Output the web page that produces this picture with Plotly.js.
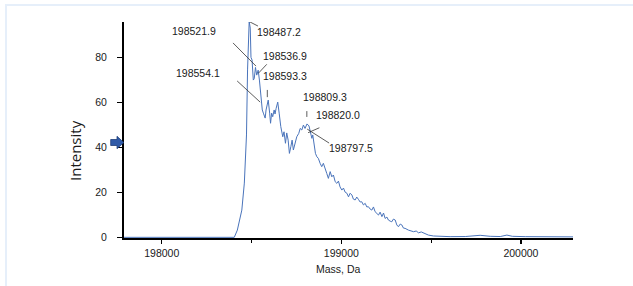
<!DOCTYPE html>
<html>
<head>
<meta charset="utf-8">
<script src="https://cdn.plot.ly/plotly-3.0.1.min.js"></script>
<style>
  html, body { margin: 0; padding: 0; background: #ffffff; }
  #wrap { position: relative; width: 633px; height: 286px; overflow: hidden; }
  #chart { position: absolute; left: 0; top: 0; width: 633px; height: 286px; }
  #frame { position: absolute; left: 5px; top: 4px; width: 800px; height: 400px;
           border: 2px solid #e6effa; pointer-events: none; }
</style>
</head>
<body>
<div id="wrap">
  <div id="chart"></div>
  <div id="frame"></div>
</div>
<script>
// ---- data ----
const mass = [
  197790, 198000, 198200, 198350, 198404, 198421, 198446, 198460, 198468, 198472, 198478,
  198487, 198493, 198497, 198503, 198510, 198515, 198522, 198529, 198537, 198544,
  198553, 198560, 198566, 198576, 198581, 198593, 198601, 198606, 198612, 198618,
  198626, 198631, 198637, 198646, 198654, 198663, 198674, 198681, 198689, 198696,
  198704, 198711, 198719, 198726, 198733, 198743, 198752, 198763, 198771, 198780,
  198789, 198798, 198809, 198820, 198826, 198836, 198841, 198849, 198856, 198864,
  198872, 198882, 198891, 198900, 198910, 198919, 198928, 198938, 198947, 198956,
  198966, 198975, 198984, 198993, 199003, 199012, 199021, 199031, 199040, 199049,
  199059, 199067, 199077, 199086, 199095, 199105, 199114, 199123, 199133, 199142,
  199151, 199160, 199170, 199179, 199188, 199198, 199207, 199216, 199226, 199235,
  199244, 199254, 199262, 199272, 199281, 199290, 199300, 199309, 199318, 199328,
  199337, 199346, 199355, 199374, 199389, 199402, 199417, 199430, 199445, 199457,
  199485, 199513, 199550, 199606, 199690, 199773, 199829, 199885, 199922, 199952,
  200024, 200135, 200219, 200290
];
const intensity = [
  0, 0, 0, 0, 0, 3.2, 12.1, 24.1, 38.8, 45.5, 74.4,
  95.9, 93.0, 80.0, 78.8, 69.9, 70.5, 75.5, 72.1, 74.3, 69.9,
  61.0, 56.6, 55.2, 53.0, 56.6, 61.0, 55.2, 50.7, 55.2, 53.6,
  56.6, 54.8, 57.3, 60.1, 55.2, 49.2, 44.7, 46.9, 41.8, 46.4,
  43.2, 37.3, 40.3, 43.2, 38.8, 41.8, 44.7, 46.2, 48.4, 47.7,
  49.9, 48.4, 50.4, 49.5, 46.9, 44.0, 45.5, 41.8, 37.3, 35.8,
  35.1, 32.9, 31.4, 32.9, 29.9, 28.4, 26.2, 29.2, 26.9, 27.7,
  24.7, 24.0, 25.0, 22.4, 21.0, 21.9, 20.1, 19.6, 18.0, 19.6,
  18.8, 17.0, 16.6, 17.9, 16.9, 15.7, 15.8, 14.4, 15.1, 13.5,
  13.6, 12.6, 12.1, 13.5, 11.4, 10.4, 9.9, 11.2, 9.2, 10.8,
  8.4, 9.0, 7.7, 7.2, 6.9, 8.1, 7.7, 5.5, 4.7, 5.9,
  5.5, 4.1, 4.0, 3.2, 3.0, 2.5, 2.8, 2.0, 2.4, 2.0,
  1.0, 0.6, 0.4, 0.3, 0.35, 0.9, 0.45, 0.35, 1.0, 0.45,
  0.3, 0.2, 0.2, 0.2
];
const peakLabels = ["198521.9", "198487.2", "198536.9", "198554.1",
                    "198593.3", "198809.3", "198820.0", "198797.5"];
const xTickVals = [198000, 199000, 200000];
const xTickText = ["198000", "199000", "200000"];
const yTickVals = [0, 20, 40, 60, 80];
const yTickText = ["0", "20", "40", "60", "80"];

// ---- layout helpers (positions of labels / leaders) ----
const labelPos = [
  [198177, 91.7], [198651, 91.2], [198687, 80.6], [198202, 73.0],
  [198687, 71.7], [198910, 62.3], [198982, 54.3], [199055, 39.7]
];
const leaders = [
  [198397, 86.4, 198525, 76.1],
  [198487, 95.9, 198536, 93.9],
  [198585, 76.9, 198538, 72.9],
  [198420, 69.5, 198548, 60.1],
  [198588, 65.5, 198588, 62.3],
  [198808, 56.1, 198808, 53.5],
  [198878, 48.7, 198815, 46.5],
  [198810, 48.1, 198932, 41.9]
];

const FONT = "Liberation Sans, Arial, sans-serif";

const annotations = peakLabels.map((t, i) => ({
  x: labelPos[i][0], y: labelPos[i][1], xref: "x", yref: "y",
  text: t, showarrow: false, xanchor: "center", yanchor: "middle",
  font: { family: FONT, size: 10.5, color: "#1a1a1a" }
}));
annotations.push({
  xref: "paper", yref: "paper", x: (75 - 124) / 449, y: (238 - 151) / 216,
  text: "Intensity", textangle: -90, showarrow: false,
  xanchor: "center", yanchor: "middle",
  font: { family: "Open Sans, Noto Sans, sans-serif", size: 15, color: "#1a1a1a" }
});
annotations.push({
  xref: "paper", yref: "paper", x: (338 - 124) / 449, y: (238 - 269) / 216,
  text: "Mass, Da", showarrow: false, xanchor: "center", yanchor: "middle",
  font: { family: FONT, size: 10.5, color: "#1a1a1a" }
});

const shapes = leaders.map(l => ({
  type: "line", xref: "x", yref: "y",
  x0: l[0], y0: l[1], x1: l[2], y1: l[3],
  line: { color: "#333333", width: 0.8 }
}));
// blue marker arrow at the y axis
const px = v => (v - 124) / 449, py = v => (238 - v) / 216;
shapes.push({
  type: "path", xref: "paper", yref: "paper",
  path: `M${px(110.7)},${py(139.5)} L${px(117)},${py(139.5)} L${px(117)},${py(136.3)} ` +
        `L${px(123.8)},${py(142.5)} L${px(117)},${py(148.7)} L${px(117)},${py(145.5)} ` +
        `L${px(110.7)},${py(145.5)} Z`,
  fillcolor: "#2f5aa8", line: { color: "#1f3f7a", width: 0.8 }
});

const trace = {
  x: mass, y: intensity, type: "scatter", mode: "lines",
  line: { color: "#4a74bb", width: 1 }, hoverinfo: "none"
};

const layout = {
  width: 633, height: 286,
  margin: { l: 124, r: 60, t: 22, b: 48 },
  paper_bgcolor: "#ffffff", plot_bgcolor: "#ffffff",
  showlegend: false,
  xaxis: {
    range: [197790, 200290], showgrid: false, zeroline: false,
    showline: true, linecolor: "#000000", linewidth: 2,
    tickmode: "array", tickvals: xTickVals, ticktext: xTickText,
    ticks: "outside", ticklen: 4, tickwidth: 1.5, tickcolor: "#000000",
    minor: { tickvals: [198500, 199500], ticks: "outside", ticklen: 3, tickwidth: 1, tickcolor: "#000000" },
    tickfont: { family: FONT, size: 10.5, color: "#1a1a1a" }
  },
  yaxis: {
    range: [-0.3, 95.7], showgrid: false, zeroline: false,
    showline: true, linecolor: "#000000", linewidth: 2,
    tickmode: "array", tickvals: yTickVals, ticktext: yTickText,
    ticks: "outside", ticklen: 5, tickwidth: 1.5, tickcolor: "#000000",
    ticklabelstandoff: 8,
    tickfont: { family: FONT, size: 10.5, color: "#1a1a1a" }
  },
  annotations: annotations,
  shapes: shapes
};

Plotly.newPlot("chart", [trace], layout, { staticPlot: true, displayModeBar: false });
</script>
</body>
</html>
